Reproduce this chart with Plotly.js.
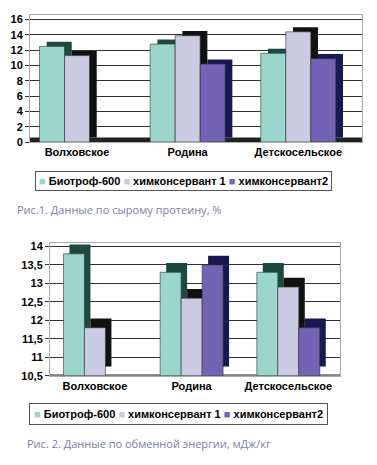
<!DOCTYPE html>
<html><head><meta charset="utf-8">
<script src="https://cdn.plot.ly/plotly-3.0.1.min.js"></script>
<style>html,body{margin:0;padding:0;background:#fff}#c{width:377px;height:465px}</style>
</head><body><div id="c"></div>
<script>
const categories = ["Волховское", "Родина", "Детскосельское"];
const seriesNames = ["Биотроф-600", "химконсервант 1", "химконсервант2"];
// Chart 1: crude protein, %
const protein_biotrof = [12.5, 12.8, 11.6];
const protein_chem1 = [11.3, 13.9, 14.4];
const protein_chem2 = [null, 10.2, 10.9];
// Chart 2: exchange energy, MJ/kg
const energy_biotrof = [13.8, 13.3, 13.3];
const energy_chem1 = [11.8, 12.6, 12.9];
const energy_chem2 = [null, 13.5, 11.8];
const ticks1 = [0, 2, 4, 6, 8, 10, 12, 14, 16];
const ticks2 = [10.5, 11, 11.5, 12, 12.5, 13, 13.5, 14];

const frontColors = ["#9ad6cc", "#cacae2", "#7263b4"];
const sideColors = ["#1d4a40", "#111111", "#1a1850"];

function traces(series, xa, ya, w, dx, dy, baseVal) {
  const out = [];
  const offs = [-1.5 * w, -0.5 * w, 0.5 * w];
  series.forEach((vals, i) => {
    out.push({
      type: "bar", x: categories, y: vals.map(v => v == null ? null : v - baseVal),
      base: baseVal + dy, offset: offs[i] + dx, width: w,
      marker: {color: sideColors[i], line: {width: 0}},
      xaxis: xa, yaxis: ya, showlegend: false, hoverinfo: "skip"
    });
  });
  series.forEach((vals, i) => {
    out.push({
      type: "bar", x: categories, y: vals.map(v => v == null ? null : v - baseVal),
      base: baseVal, offset: offs[i], width: w, name: seriesNames[i],
      marker: {color: frontColors[i], line: {width: 0.6, color: "#333"}},
      xaxis: xa, yaxis: ya, showlegend: false
    });
  });
  return out;
}

const data = [].concat(
  traces([protein_biotrof, protein_chem1, protein_chem2], "x", "y", 0.226, 0.065, 0.6, 0),
  traces([energy_biotrof, energy_chem1, energy_chem2], "x2", "y2", 0.217, 0.062, 0.25, 10.5)
);

const tickFont = {family: "Liberation Sans, Arial, sans-serif", size: 11, color: "#000", weight: "bold"};
const legFont = {family: "Liberation Sans, Arial, sans-serif", size: 11, color: "#000"};
const capFont = {family: "Open Sans, sans-serif", size: 11, color: "#7a7eaa"};

const legendText = seriesNames.map((n, i) =>
  '<span style="color:' + frontColors[i] + '">■</span> <b>' + n + '</b>').join(' ');

const layout = {
  width: 377, height: 465, margin: {l: 0, r: 0, t: 0, b: 0},
  paper_bgcolor: "#fff", plot_bgcolor: "#fff",
  separators: ", ", barmode: "overlay", showlegend: false,
  xaxis: {domain: [0.0796, 0.960], range: [-0.425, 2.575], showgrid: false,
    showline: true, mirror: true, linecolor: "#aaa", linewidth: 1,
    tickfont: tickFont, ticks: "", anchor: "y"},
  yaxis: {domain: [0.6946, 0.9677], range: [0, 16.6], tickvals: ticks1,
    showgrid: true, gridcolor: "#333", gridwidth: 1, zeroline: false,
    showline: true, mirror: true, linecolor: "#aaa", tickfont: tickFont,
    ticks: "outside", ticklen: 4, tickcolor: "#333", anchor: "x"},
  xaxis2: {domain: [0.1326, 0.9019], range: [-0.465, 2.535], showgrid: false,
    showline: true, mirror: true, linecolor: "#aaa", linewidth: 1,
    tickfont: tickFont, ticks: "", anchor: "y2"},
  yaxis2: {domain: [0.192, 0.478], range: [10.5, 14.1], tickvals: ticks2,
    showgrid: true, gridcolor: "#333", gridwidth: 1, zeroline: false,
    showline: true, mirror: true, linecolor: "#aaa", tickfont: tickFont,
    ticks: "outside", ticklen: 4, tickcolor: "#333", anchor: "x2"},
  shapes: [
    {type: "rect", xref: "x domain", yref: "y", x0: 0, x1: 1, y0: 0, y1: 0.6,
      fillcolor: "#222", line: {width: 0}, layer: "below"},
    {type: "rect", xref: "x2 domain", yref: "y2", x0: 0, x1: 1, y0: 10.5, y1: 10.53,
      fillcolor: "#222", line: {width: 0}, layer: "below"}
  ],
  annotations: [
    {text: legendText, xref: "paper", yref: "paper",
      x: 183 / 377, y: 1 - 181 / 465, xanchor: "center", yanchor: "middle",
      showarrow: false, font: legFont, bordercolor: "#555", borderwidth: 1,
      borderpad: 3, bgcolor: "#fff"},
    {text: legendText, xref: "paper", yref: "paper",
      x: 178.5 / 377, y: 1 - 414 / 465, xanchor: "center", yanchor: "middle",
      showarrow: false, font: legFont, bordercolor: "#555", borderwidth: 1,
      borderpad: 4, bgcolor: "#fff"},
    {text: "Рис.1. Данные по сырому протеину, %", xref: "paper", yref: "paper",
      x: 15 / 377, y: 1 - 209 / 465, xanchor: "left", yanchor: "middle",
      showarrow: false, font: capFont},
    {text: "Рис. 2. Данные по обменной энергии, мДж/кг", xref: "paper", yref: "paper",
      x: 25 / 377, y: 1 - 443 / 465, xanchor: "left", yanchor: "middle",
      showarrow: false, font: capFont}
  ]
};

Plotly.newPlot("c", data, layout, {displayModeBar: false, staticPlot: true});
</script></body></html>
